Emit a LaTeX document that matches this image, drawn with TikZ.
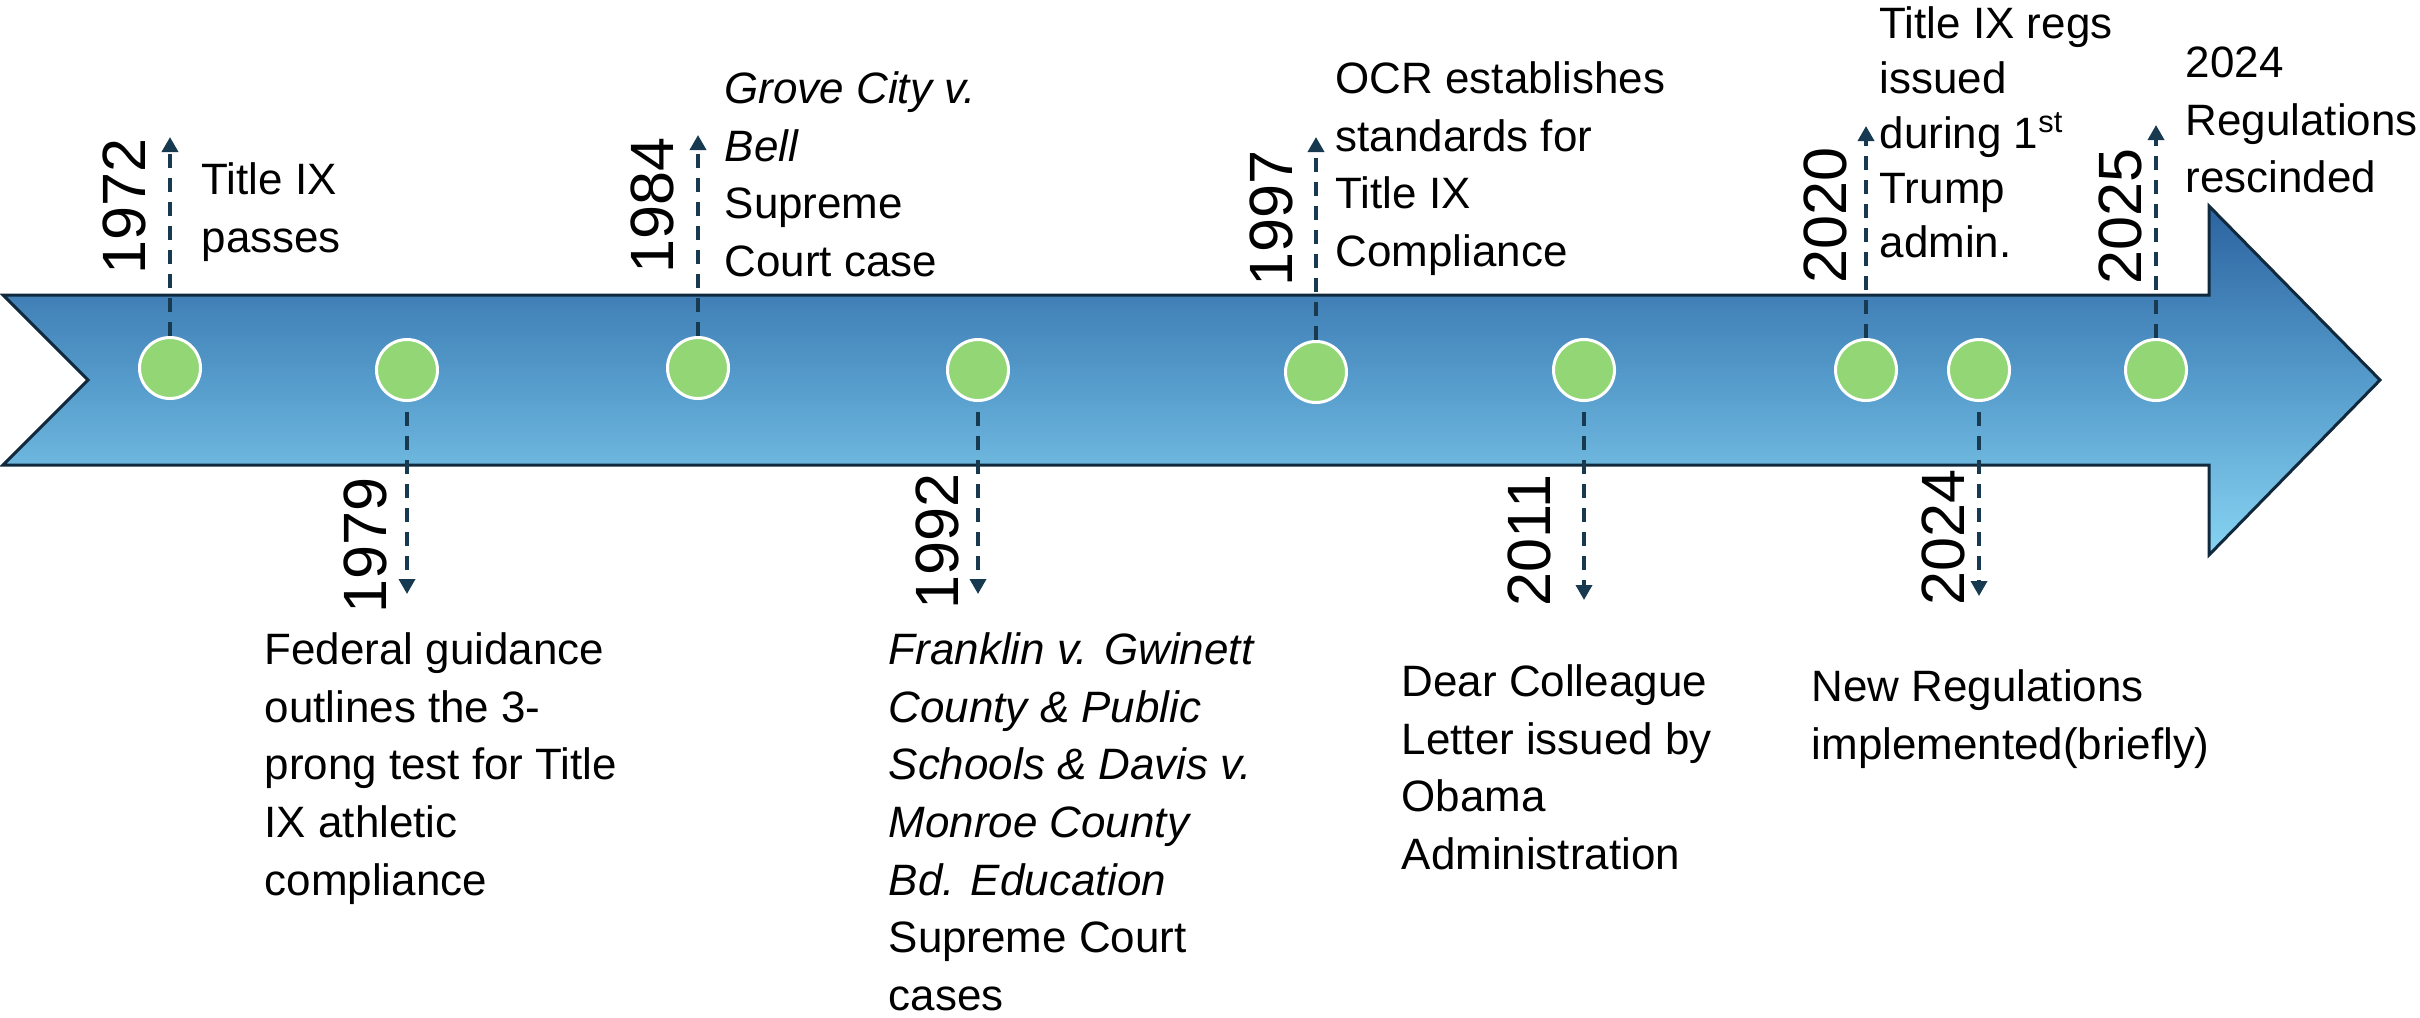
\documentclass[tikz,border=0pt]{standalone}
\usepackage{fontspec}
\setmainfont{Liberation Sans}
\usetikzlibrary{arrows.meta}

\definecolor{bandtop}{RGB}{44,99,160}
\definecolor{bandmid}{RGB}{85,155,203}
\definecolor{bandbot}{RGB}{135,212,242}
\definecolor{bandedge}{RGB}{16,41,61}
\definecolor{dotfill}{RGB}{146,214,118}
\definecolor{leader}{RGB}{23,58,81}

\pgfdeclarelayer{bandlayer}
\pgfdeclarelayer{leaderlayer}
\pgfsetlayers{bandlayer,leaderlayer,main}

\begin{document}
\begin{tikzpicture}[x=0.1mm, y=-0.1mm,
  band/.style={top color=bandtop, bottom color=bandbot, middle color=bandmid,
    draw=bandedge, line width=0.3mm, line join=miter},
  dot/.style={circle, fill=dotfill, draw=white, line width=0.3mm,
    minimum size=6.1mm, inner sep=0pt},
  leadline/.style={draw=leader, line width=0.35mm, dash pattern=on 1.4mm off 1mm,
    -{Triangle[length=1.5mm,width=1.6mm]}},
  year/.style={rotate=90, anchor=base west, inner sep=0pt,
    font=\fontsize{17.4pt}{20pt}\selectfont},
  note/.style={anchor=north west, align=left, inner sep=0pt,
    font=\fontsize{12.5pt}{16.4pt}\selectfont}]

\useasboundingbox (0,0) rectangle (2420,1017);

% timeline band with notched tail and arrow head
\begin{pgfonlayer}{bandlayer}
\path[band] (3,295) -- (2209,295) -- (2209,206) -- (2380,380) -- (2209,555)
  -- (2209,465) -- (3,465) -- (88,380) -- cycle;
\end{pgfonlayer}

% event markers
\node[dot] (c1972) at (170,368) {};
\node[dot] (c1979) at (407,370) {};
\node[dot] (c1984) at (698,368) {};
\node[dot] (c1992) at (978,370) {};
\node[dot] (c1997) at (1316,372) {};
\node[dot] (c2011) at (1584,370) {};
\node[dot] (c2020) at (1866,370) {};
\node[dot] (c2024) at (1979,370) {};
\node[dot] (c2025) at (2156,370) {};

% leader ends
\coordinate (t1972) at (c1972 |- 0,137);
\coordinate (t1984) at (c1984 |- 0,135);
\coordinate (t1997) at (c1997 |- 0,137);
\coordinate (t2020) at (c2020 |- 0,126);
\coordinate (t2025) at (c2025 |- 0,125);
\coordinate (t1979) at (c1979 |- 0,594);
\coordinate (t1992) at (c1992 |- 0,594);
\coordinate (t2011) at (c2011 |- 0,600);
\coordinate (t2024) at (c2024 |- 0,596);

% dashed leaders, kept below the markers
\begin{pgfonlayer}{leaderlayer}
\draw[leadline] (c1972.north) -- (t1972);
\draw[leadline] (c1984.north) -- (t1984);
\draw[leadline] (c1997.north) -- (t1997);
\draw[leadline] (c2020.north) -- (t2020);
\draw[leadline] (c2025.north) -- (t2025);
\draw[leadline, shorten <=1mm] (c1979.south) -- (t1979);
\draw[leadline, shorten <=1mm] (c1992.south) -- (t1992);
\draw[leadline, shorten <=1mm] (c2011.south) -- (t2011);
\draw[leadline, shorten <=1mm] (c2024.south) -- (t2024);
\end{pgfonlayer}

% years
\node[year] (y1972) at (145,275) {1972};
\node[year] (y1984) at (673,274) {1984};
\node[year] (y1997) at (1292,287) {1997};
\node[year] (y2020) at (1846,284) {2020};
\node[year] (y2025) at (2141,285) {2025};
\node[year] (y1979) at (386,614) {1979};
\node[year] (y1992) at (958,610) {1992};
\node[year] (y2011) at (1550,607) {2011};
\node[year] (y2024) at (1964,606) {2024};

% event descriptions
\node[note] (n1972) at (201,162) {Title IX\\passes};
\node[note] (n1984) at (724,71) {\textit{Grove City v.}\\\textit{Bell}\\Supreme\\Court case};
\node[note] (n1997) at (1335,61) {OCR establishes\\standards for\\Title IX\\Compliance};
\node[note, font=\fontsize{12.5pt}{15.6pt}\selectfont] (n2020) at (1879,6)
  {Title IX regs\\issued\\during 1\textsuperscript{st}\\Trump\\admin.};
\node[note] (n2025) at (2185,46) {2024\\Regulations\\rescinded};
\node[note] (n1979) at (264,632) {Federal guidance\\outlines the 3-\\prong test for Title\\IX athletic\\compliance};
\node[note] (n1992) at (888,632) {\textit{Franklin v. Gwinett}\\\textit{County \& Public}\\\textit{Schools \& Davis v.}\\\textit{Monroe County}\\\textit{Bd. Education}\\Supreme Court\\cases};
\node[note] (n2011) at (1401,664) {Dear Colleague\\Letter issued by\\Obama\\Administration};
\node[note] (n2024) at (1811,669) {New Regulations\\implemented(briefly)};

\end{tikzpicture}
\end{document}
